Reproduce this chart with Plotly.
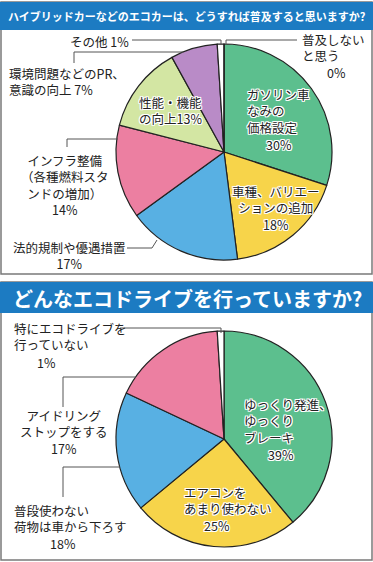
import plotly.graph_objects as go

W, H = 373, 562

# ---- data ----
title1 = "ハイブリッドカーなどのエコカーは、どうすれば普及すると思いますか?"
labels1 = ["ガソリン車<br>なみの<br>価格設定", "車種、バリエー<br>ションの追加", "法的規制や優遇措置",
           "インフラ整備<br>（各種燃料スタ<br>ンドの増加）", "性能・機能<br>の向上", "環境問題などのPR、<br>意識の向上",
           "その他", "普及しない<br>と思う"]
values1 = [30, 18, 17, 14, 13, 7, 1, 0]
colors1 = ["#5cbf8e", "#f7d44a", "#58b0e3", "#ec7fa1", "#d3e6a3", "#b98bc7", "#ffffff", "#ffffff"]

title2 = "どんなエコドライブを行っていますか?"
labels2 = ["ゆっくり発進、<br>ゆっくり<br>ブレーキ", "エアコンを<br>あまり使わない", "普段使わない<br>荷物は車から下ろす",
           "アイドリング<br>ストップをする", "特にエコドライブを<br>行っていない"]
values2 = [39, 25, 18, 17, 1]
colors2 = ["#5cbf8e", "#f7d44a", "#58b0e3", "#ec7fa1", "#ffffff"]


def px(x):
    return x / W


def py(y):
    return 1 - y / H


FONT = "Noto Sans CJK JP"
LINE = "#555555"
HALO = "1px 1px 0 #fff, -1px -1px 0 #fff, 1px -1px 0 #fff, -1px 1px 0 #fff, 0 1px 0 #fff, 0 -1px 0 #fff, 1px 0 0 #fff, -1px 0 0 #fff"


def pct(v):
    return f"{v}%"


fig = go.Figure()

fig.add_trace(go.Pie(
    labels=[l.replace("<br>", "") for l in labels1], values=values1, sort=False, direction="clockwise",
    rotation=0, marker=dict(colors=colors1, line=dict(color="#222", width=1.2)),
    textinfo="none", hoverinfo="label+percent", showlegend=False,
    domain=dict(x=[px(116), px(332)], y=[py(260), py(44)])))

fig.add_trace(go.Pie(
    labels=[l.replace("<br>", "") for l in labels2], values=values2, sort=False, direction="clockwise",
    rotation=0, marker=dict(colors=colors2, line=dict(color="#222", width=1.2)),
    textinfo="none", hoverinfo="label+percent", showlegend=False,
    domain=dict(x=[px(116), px(332)], y=[py(547), py(331)])))

shapes = []
# panel frames & headers
for (y0, y1, hy1) in [(2, 274, 30), (282, 560, 313)]:
    shapes.append(dict(type="rect", xref="paper", yref="paper", x0=px(1), x1=px(372), y0=py(y1), y1=py(y0),
                       line=dict(color="#7a7a7a", width=1.5), fillcolor="rgba(0,0,0,0)", layer="below"))
    shapes.append(dict(type="rect", xref="paper", yref="paper", x0=px(0), x1=px(373), y0=py(hy1), y1=py(y0),
                       line=dict(width=0), fillcolor="#1c7bc2", layer="below"))


def path(pts):
    d = "M " + " L ".join(f"{px(x)},{py(y)}" for x, y in pts)
    shapes.append(dict(type="path", xref="paper", yref="paper", path=d, line=dict(color=LINE, width=1)))


# leader lines (top)
path([(132, 40), (221, 40), (221, 45)])
path([(226, 45), (226, 40), (297, 40)])
path([(183, 52), (74, 52), (74, 63)])
path([(118, 139), (67, 139), (67, 147)])
path([(127, 248), (152, 248), (157, 240)])
# leader lines (bottom)
path([(120, 328), (221, 328), (221, 333)])
path([(63, 407), (63, 377), (136, 377)])
path([(63, 497), (63, 467), (120, 467)])

ann = []


def A(text, x, y, xa="center", align="center", size=12.5, halo=False, color="#222"):
    f = dict(family=FONT, size=size, color=color)
    if halo:
        f["shadow"] = HALO
    ann.append(dict(text=text, x=px(x), y=py(y), xref="paper", yref="paper", xanchor=xa, yanchor="middle",
                    align=align, showarrow=False, font=f))


# headers
ann.append(dict(text=f"<b>{title1}</b>", x=px(186.5), y=py(16), xref="paper", yref="paper", showarrow=False,
                xanchor="center", yanchor="middle", font=dict(family=FONT, size=11, color="white")))
ann.append(dict(text=f"<b>{title2}</b>", x=px(187), y=py(298), xref="paper", yref="paper", showarrow=False,
                xanchor="center", yanchor="middle", font=dict(family=FONT, size=20, color="white")))

# top pie labels
A(labels1[0], 245, 111, xa="left", align="left", halo=True)
A(pct(values1[0]), 279, 144.5, halo=True)
A(labels1[1] + "<br>" + pct(values1[1]), 276, 208, halo=True)
A(labels1[2] + "<br>" + pct(values1[2]), 69, 255)
A(labels1[3] + "<br>" + pct(values1[3]), 65, 185)
A(labels1[4] + pct(values1[4]), 137, 110.5, xa="left", align="left", halo=True)
A(labels1[5] + " " + pct(values1[5]), 7, 81.5, xa="left", align="left")
A(labels1[6] + " " + pct(values1[6]), 131, 41, xa="right", align="right")
A(labels1[7], 300, 48, xa="left", align="left")
A(pct(values1[7]), 336, 72)

# bottom pie labels
A(labels2[0], 242, 421, xa="left", align="left", halo=True)
A(pct(values2[0]), 281, 454.5, halo=True)
A(labels2[1], 182, 500, xa="left", align="left", halo=True)
A(pct(values2[1]), 217, 525, halo=True)
A(labels2[2], 12, 518, xa="left", align="left")
A(pct(values2[2]), 63, 543)
A(labels2[3] + "<br>" + pct(values2[3]), 64, 432)
A(labels2[4], 12, 336.5, xa="left", align="left")
A(pct(values2[4]), 46, 362)

fig.update_layout(width=W, height=H, margin=dict(l=0, r=0, t=0, b=0), paper_bgcolor="white",
                  plot_bgcolor="white", shapes=shapes, annotations=ann, font=dict(family=FONT))

fig.write_html("out.html", config={"displayModeBar": False},
               post_script="document.body.style.margin='0';document.body.style.overflow='hidden';")
